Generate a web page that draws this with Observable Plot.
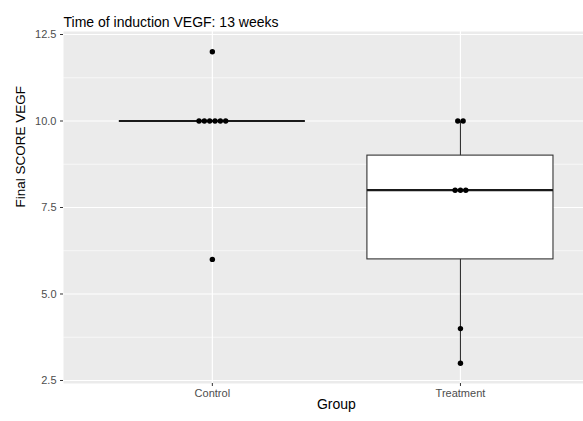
<!DOCTYPE html>
<html>
<head>
<meta charset="utf-8">
<script src="https://cdn.jsdelivr.net/npm/d3@7"></script>
<script src="https://cdn.jsdelivr.net/npm/@observablehq/plot@0.6"></script>
<style>
  html, body { margin: 0; padding: 0; background: white; }
</style>
</head>
<body>
<div id="chart"></div>
<script>
const titleText = "Time of induction VEGF: 13 weeks";
const xTitle = "Group";
const yTitle = "Final SCORE VEGF";
const groups = ["Control", "Treatment"];
const controlScores = [12, 10, 10, 10, 10, 10, 10, 6];
const treatmentScores = [10, 10, 8, 8, 8, 4, 3];
const yTicks = [2.5, 5, 7.5, 10, 12.5];
const yMinorTicks = [3.75, 6.25, 8.75, 11.25];

const scoresByGroup = {Control: controlScores, Treatment: treatmentScores};
const groupIndex = groups.map((g, i) => i + 1);

// box statistics
const stats = groups.map((g, i) => {
  const s = scoresByGroup[g].slice().sort(d3.ascending);
  const q1 = d3.quantile(s, 0.25), q3 = d3.quantile(s, 0.75), med = d3.quantile(s, 0.5);
  const iqr = q3 - q1;
  const lo = d3.min(s.filter(v => v >= q1 - 1.5 * iqr));
  const hi = d3.max(s.filter(v => v <= q3 + 1.5 * iqr));
  return {group: g, gi: i + 1, q1, q3, med, lo, hi};
});

// centred dot stacks
const step = 0.0215;
const dots = [];
groups.forEach((g, i) => {
  const counts = d3.rollup(scoresByGroup[g], v => v.length, v => v);
  counts.forEach((n, v) => {
    for (let k = 0; k < n; k++) dots.push({group: g, score: v, x: i + 1 + (k - (n - 1) / 2) * step});
  });
});

const half = 0.375;
const font = "'Liberation Sans', Arial, sans-serif";

const chart = Plot.plot({
  width: 583,
  height: 421,
  marginLeft: 63,
  marginRight: 0,
  marginTop: 31,
  marginBottom: 38,
  style: {fontFamily: font, background: "white", fontSize: "11px"},
  x: {domain: [0.4, 2.496], axis: null},
  y: {domain: [2.413, 12.587], axis: null},
  marks: [
    Plot.frame({fill: "#ebebeb", stroke: null}),
    Plot.ruleY(yMinorTicks, {stroke: "white", strokeWidth: 0.6}),
    Plot.ruleY(yTicks, {stroke: "white", strokeWidth: 1.2}),
    Plot.ruleX(groupIndex, {stroke: "white", strokeWidth: 1.2}),
    Plot.ruleX(stats, {x: "gi", y1: "lo", y2: "hi", stroke: "#333333", strokeWidth: 1.1}),
    Plot.rect(stats, {x1: d => d.gi - half, x2: d => d.gi + half, y1: "q1", y2: "q3", fill: "white", stroke: "#333333", strokeWidth: 1.1}),
    Plot.ruleY(stats, {y: "med", x1: d => d.gi - half, x2: d => d.gi + half, stroke: "#1a1a1a", strokeWidth: 2.2}),
    Plot.dot(dots, {x: "x", y: "score", r: 2.7, fill: "black", stroke: null}),
    Plot.axisY(yTicks, {tickFormat: d3.format(".1f"), tickSize: 3, tickPadding: 4, stroke: "#333333", fill: "#4d4d4d", fontSize: 11, label: null}),
    Plot.axisX(groupIndex, {tickFormat: d => groups[d - 1], tickSize: 3, tickPadding: 3, stroke: "#333333", fill: "#4d4d4d", fontSize: 11, label: null}),
    Plot.text([titleText], {frameAnchor: "top-left", textAnchor: "start", dy: -14, fontSize: 14, fill: "black"}),
    Plot.text([yTitle], {frameAnchor: "left", rotate: -90, dx: -43, fontSize: 13.5, fill: "black"}),
    Plot.text([xTitle], {x: () => (1 + groups.length) / 2, frameAnchor: "bottom", dy: 25, fontSize: 14, fill: "black"})
  ]
});
document.getElementById("chart").appendChild(chart);
</script>
</body>
</html>
